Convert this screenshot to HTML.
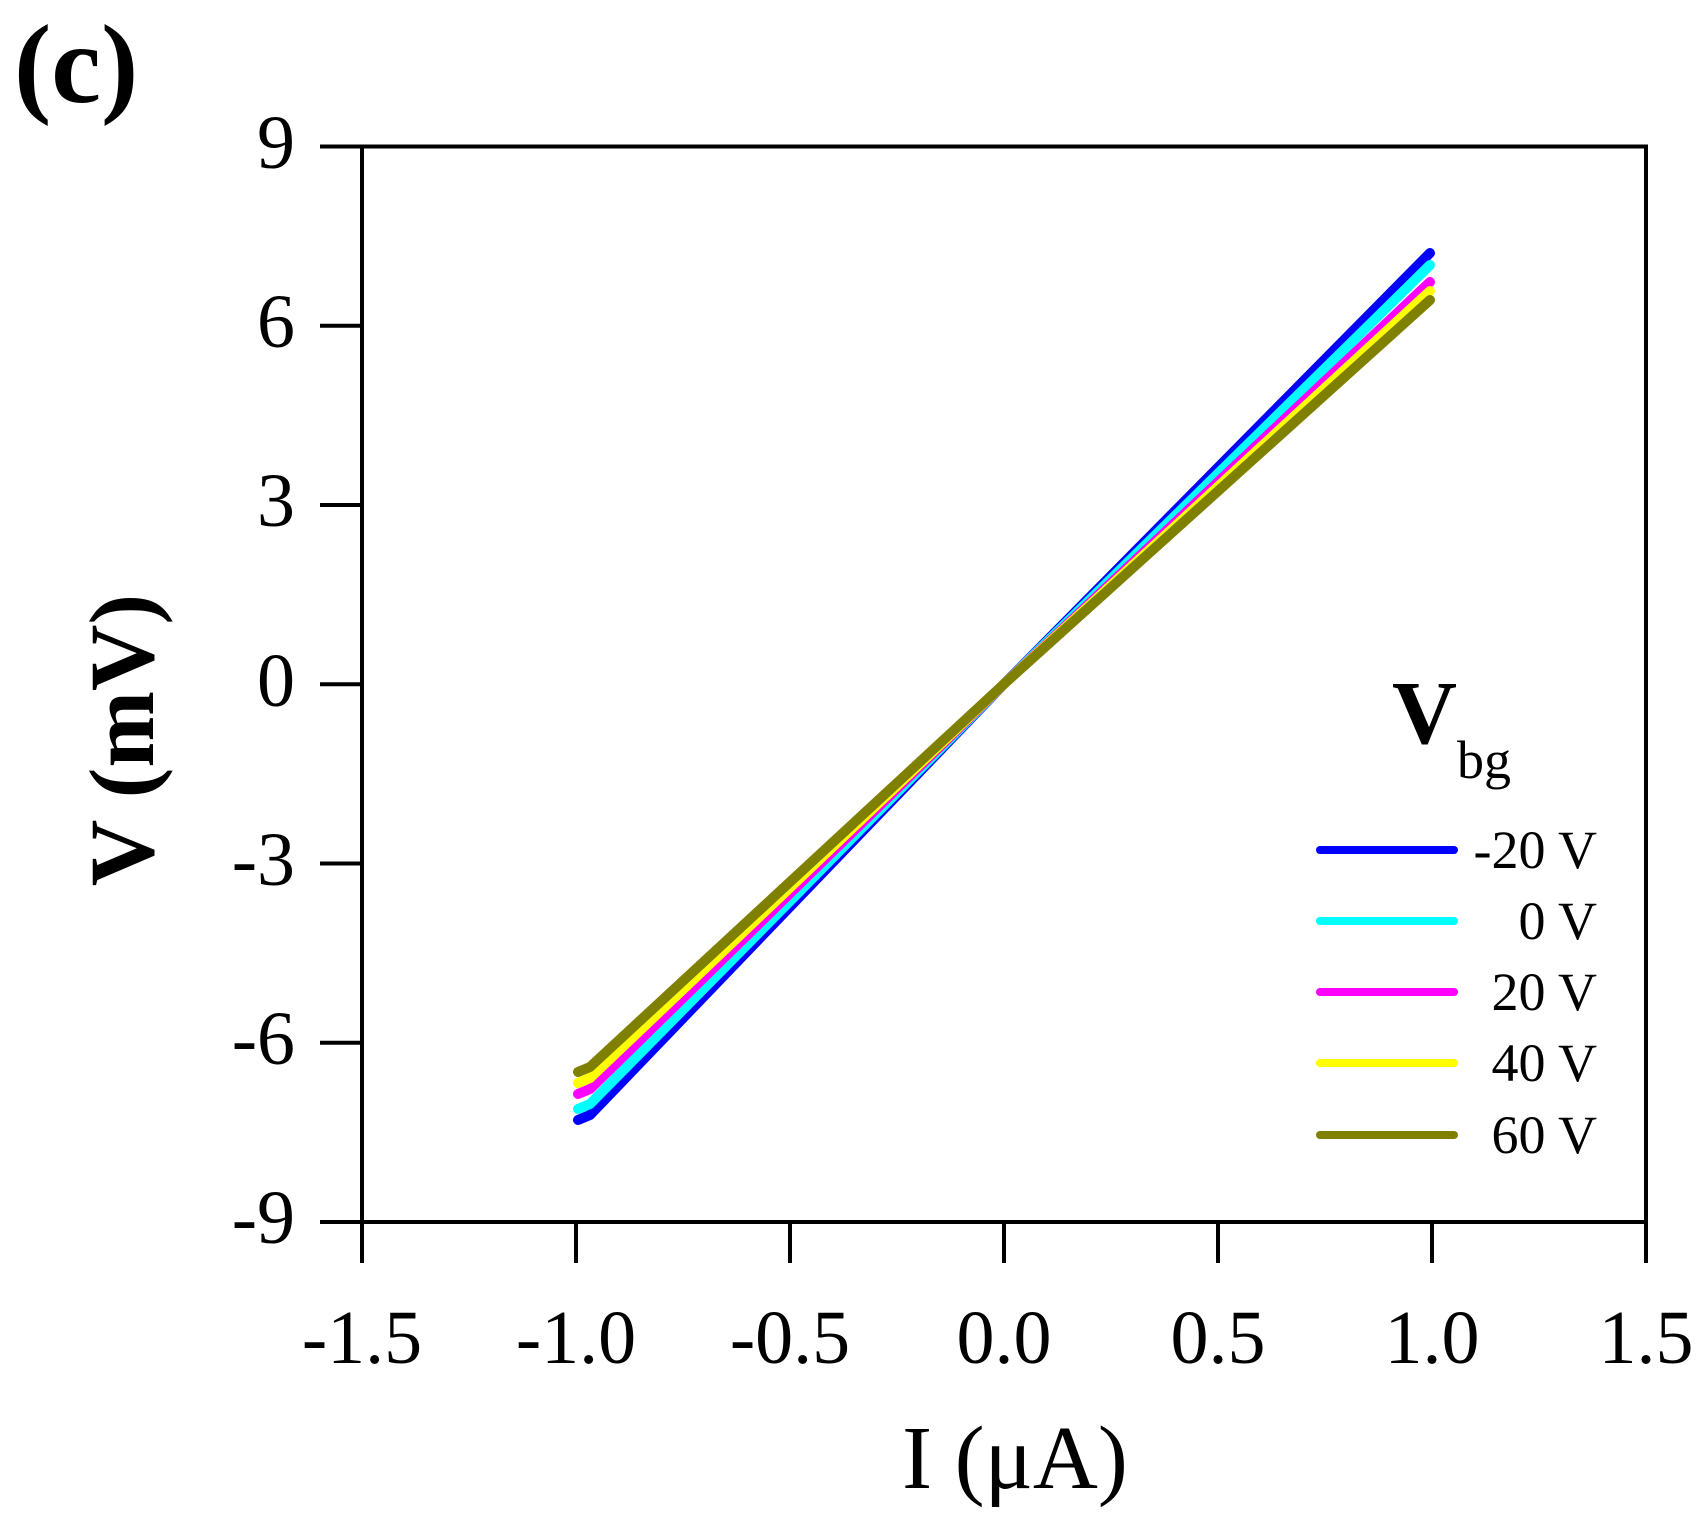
<!DOCTYPE html>
<html><head><meta charset="utf-8"><style>body{margin:0;background:#fff}svg{display:block}</style></head><body>
<svg width="1699" height="1520" viewBox="0 0 1699 1520" xmlns="http://www.w3.org/2000/svg" font-family="'Liberation Serif', 'Times New Roman', 'Nimbus Roman', serif">
<rect width="1699" height="1520" fill="#fff"/>
<text x="14" y="102" font-size="112" font-weight="bold">(c)</text>
<g stroke="#000" stroke-width="4" fill="none">
<rect x="362" y="146.5" width="1284" height="1075.5"/>
<line x1="320" y1="146.5" x2="362" y2="146.5"/>
<line x1="320" y1="325.75" x2="362" y2="325.75"/>
<line x1="320" y1="505" x2="362" y2="505"/>
<line x1="320" y1="684.25" x2="362" y2="684.25"/>
<line x1="320" y1="863.5" x2="362" y2="863.5"/>
<line x1="320" y1="1042.75" x2="362" y2="1042.75"/>
<line x1="320" y1="1222" x2="362" y2="1222"/>
<line x1="362" y1="1222" x2="362" y2="1263"/>
<line x1="576" y1="1222" x2="576" y2="1263"/>
<line x1="790" y1="1222" x2="790" y2="1263"/>
<line x1="1004" y1="1222" x2="1004" y2="1263"/>
<line x1="1218" y1="1222" x2="1218" y2="1263"/>
<line x1="1432" y1="1222" x2="1432" y2="1263"/>
<line x1="1646" y1="1222" x2="1646" y2="1263"/>
</g>
<g font-size="76" text-anchor="end">
<text x="295" y="168">9</text>
<text x="295" y="347">6</text>
<text x="295" y="526">3</text>
<text x="295" y="706">0</text>
<text x="295" y="885">-3</text>
<text x="295" y="1064">-6</text>
<text x="295" y="1243">-9</text>
</g>
<g font-size="76" text-anchor="middle">
<text x="362" y="1363">-1.5</text>
<text x="576" y="1363">-1.0</text>
<text x="790" y="1363">-0.5</text>
<text x="1004" y="1363">0.0</text>
<text x="1218" y="1363">0.5</text>
<text x="1432" y="1363">1.0</text>
<text x="1646" y="1363">1.5</text>
</g>
<text x="1015" y="1488" font-size="90" text-anchor="middle">I (μA)</text>
<text transform="translate(153,740) rotate(-90)" font-size="92" font-weight="bold" text-anchor="middle">V (mV)</text>
<g fill="none" stroke-width="10" stroke-linecap="round" stroke-linejoin="round">
<polyline stroke="#0000ff" points="578,1120 590,1115 1004,684 1430,253"/>
<polyline stroke="#00ffff" points="578,1109 590,1104 1004,684 1430,265"/>
<polyline stroke="#ff00ff" points="578,1094 590,1089 1004,684 1430,282"/>
<polyline stroke="#ffff00" points="578,1083 590,1078 1004,684 1430,291"/>
<polyline stroke="#808000" points="578,1072 590,1067 1004,684 1430,300"/>
</g>
<text x="1392" y="743" font-size="90" font-weight="bold">V</text>
<text x="1457" y="778" font-size="54">bg</text>
<g stroke-width="8" stroke-linecap="round">
<line x1="1320" y1="850" x2="1454" y2="850" stroke="#0000ff"/>
<line x1="1320" y1="921" x2="1454" y2="921" stroke="#00ffff"/>
<line x1="1320" y1="992" x2="1454" y2="992" stroke="#ff00ff"/>
<line x1="1320" y1="1063" x2="1454" y2="1063" stroke="#ffff00"/>
<line x1="1320" y1="1135" x2="1454" y2="1135" stroke="#808000"/>
</g>
<g font-size="54" text-anchor="end">
<text x="1597" y="868">-20 V</text>
<text x="1597" y="939">0 V</text>
<text x="1597" y="1010">20 V</text>
<text x="1597" y="1081">40 V</text>
<text x="1597" y="1153">60 V</text>
</g>
</svg>
</body></html>
